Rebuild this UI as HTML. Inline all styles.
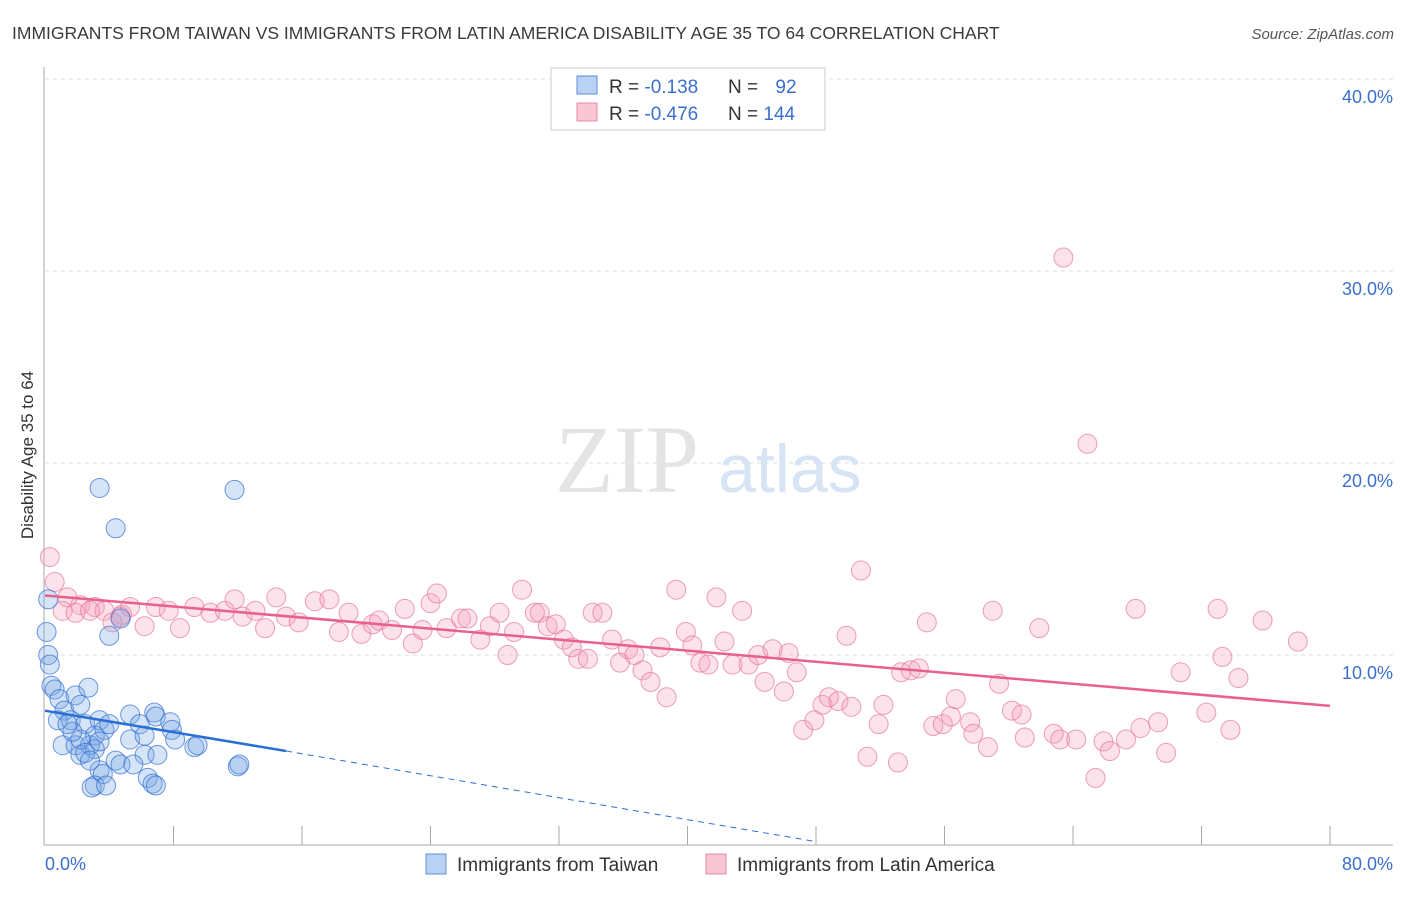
<!DOCTYPE html>
<html><head><meta charset="utf-8"><style>
body{margin:0;background:#fff;font-family:"Liberation Sans",sans-serif;}
</style></head><body>
<svg width="1406" height="892" xmlns="http://www.w3.org/2000/svg">
<text x="12" y="39" font-size="17.5" fill="#3a3a3a">IMMIGRANTS FROM TAIWAN VS IMMIGRANTS FROM LATIN AMERICA DISABILITY AGE 35 TO 64 CORRELATION CHART</text>
<text x="1394" y="39" font-size="15" fill="#555" font-style="italic" text-anchor="end">Source: ZipAtlas.com</text>
<g id="grid"></g>
<text x="555" y="492" font-size="96" fill="#e4e4e4" font-family="Liberation Serif,serif">ZIP</text>
<text x="718" y="492" font-size="68" fill="#d6e4f5">atlas</text>
<g id="axes"></g>
<g id="marks"></g>
<text transform="translate(33,455) rotate(-90)" font-size="17" fill="#333" text-anchor="middle">Disability Age 35 to 64</text>
<g>
<rect x="551" y="68" width="274" height="62" fill="#fff" stroke="#ccc"/>
<rect x="577" y="76" width="20" height="18" fill="#b9d2f3" stroke="#5b8fd9"/>
<rect x="577" y="103" width="20" height="18" fill="#f9c6d4" stroke="#e68aa6"/>
<text x="609" y="93" font-size="19" fill="#333">R = <tspan fill="#3a6fd0">-0.138</tspan></text>
<text x="728" y="93" font-size="19" fill="#333">N = <tspan fill="#3a6fd0" dx="12">92</tspan></text>
<text x="609" y="120" font-size="19" fill="#333">R = <tspan fill="#3a6fd0">-0.476</tspan></text>
<text x="728" y="120" font-size="19" fill="#333">N = <tspan fill="#3a6fd0">144</tspan></text>
</g>
<g>
<rect x="426" y="854" width="20" height="20" fill="#b9d2f3" stroke="#5b8fd9"/>
<text x="457" y="871" font-size="19" fill="#333">Immigrants from Taiwan</text>
<rect x="706" y="854" width="20" height="20" fill="#f9c6d4" stroke="#e68aa6"/>
<text x="737" y="871" font-size="19" fill="#333">Immigrants from Latin America</text>
</g>
</svg>
<script>
const yTicks=[10,20,30,40];
const xTickLabels=["0.0%","80.0%"];
const taiwanX=[3.4,11.8,4.4,4.7,4.0,0.1,0.2,0.2,0.3,0.4,0.6,0.9,1.2,1.9,2.7,2.2,1.6,2.5,3.1,3.4,1.1,1.9,2.8,2.2,3.1,3.7,5.3,5.9,6.8,6.9,7.8,7.9,8.1,9.3,9.5,5.3,6.2,7.0,4.4,4.7,5.5,3.4,3.6,3.1,2.9,3.8,6.4,6.7,6.9,12.0,12.1,2.2,2.5,2.8,1.7,0.8,1.4,3.4,4.0,6.2];
const taiwanY=[18.7,18.6,16.6,11.9,11.0,11.2,12.9,10.0,9.5,8.4,8.2,7.7,7.1,7.9,8.3,7.4,6.6,6.4,5.8,6.6,5.3,5.3,5.3,4.8,5.1,6.1,6.9,6.4,7.0,6.8,6.5,6.1,5.6,5.2,5.3,5.6,4.8,4.8,4.5,4.3,4.3,4.0,3.8,3.2,3.1,3.2,3.6,3.3,3.2,4.2,4.3,5.6,4.9,4.5,6.0,6.6,6.4,5.5,6.4,5.8];
const latamX=[0.3,0.6,1.4,2.2,3.1,3.7,4.8,5.3,6.2,6.9,7.7,8.4,9.3,10.3,11.2,11.8,12.3,13.1,13.7,14.4,15.0,15.8,16.8,17.7,18.3,18.9,19.7,20.4,20.8,21.6,22.4,22.9,23.5,24.0,24.4,25.0,25.9,26.3,27.1,27.7,28.3,28.8,29.2,29.7,30.5,30.8,31.3,31.8,32.3,32.8,33.2,33.8,34.1,34.7,35.3,35.8,36.3,36.7,37.2,37.7,38.3,38.7,39.3,39.9,40.3,40.8,41.3,41.8,42.3,42.8,43.4,43.8,44.4,44.8,45.3,46.0,46.3,46.8,47.2,47.9,48.4,48.8,49.4,49.9,50.2,50.8,51.2,51.9,52.2,53.1,53.3,53.9,54.4,54.9,55.3,55.9,56.4,56.7,57.6,57.8,58.7,59.0,59.4,60.2,60.8,61.0,61.9,62.8,63.2,64.2,63.4,64.9,65.4,65.9,66.3,67.3,67.9,68.2,69.3,69.8,70.7,72.3,73.0,73.3,73.8,74.3,75.8,78.0,1.1,1.9,2.8,4.2,4.7];
const latamY=[15.1,13.8,13.0,12.6,12.5,12.3,12.1,12.5,11.5,12.5,12.3,11.4,12.5,12.2,12.3,12.9,12.0,12.3,11.4,13.0,12.0,11.7,12.8,12.9,11.2,12.2,11.1,11.6,11.8,11.3,12.4,10.6,11.3,12.7,13.2,11.4,11.9,11.9,10.8,11.5,12.2,10.0,11.2,13.4,12.2,12.2,11.5,11.6,10.8,10.4,9.8,9.8,12.2,12.2,10.8,9.6,10.3,10.0,9.2,8.6,10.4,7.8,13.4,11.2,10.5,9.6,9.5,13.0,10.7,9.5,12.3,9.5,10.0,8.6,10.3,8.1,10.1,9.1,6.1,6.6,7.4,7.8,7.6,11.0,7.3,14.4,4.7,6.4,7.4,4.4,9.1,9.2,9.3,11.7,6.3,6.4,6.8,7.7,6.5,5.9,5.2,12.3,8.5,7.1,6.9,5.7,11.4,5.9,5.6,5.6,30.7,21.0,3.6,5.5,5.0,5.6,12.4,6.2,6.5,4.9,9.1,7.0,12.4,9.9,6.1,8.8,11.8,10.7,12.3,12.2,12.3,11.7,12.0];
const taiwanTrend=[[0,7.1],[15,5.0]];
const taiwanTrendDash=[[15,5.0],[48,0.28]];
const latamTrend=[[0,13.1],[80,7.35]];
const X0=45,X1=1330,Y0=847,PPY=19.2;
const sx=v=>X0+(v/80)*(X1-X0);
const sy=v=>Y0-v*PPY;
const NS="http://www.w3.org/2000/svg";
function mk(tag,attrs,parent){const e=document.createElementNS(NS,tag);for(const k in attrs)e.setAttribute(k,attrs[k]);document.getElementById(parent).appendChild(e);return e;}
yTicks.forEach(t=>{
 const g=mk('line',{x1:45,x2:1393,y1:sy(t),y2:sy(t),stroke:'#dcdcdc','stroke-dasharray':'4,4'},'grid');
 
 
 const l=mk('text',{x:1393,y:sy(t)+24,'font-size':18,fill:'#3a6fd0','text-anchor':'end'},'grid');
 l.textContent=t.toFixed(1)+'%';
 
 
});
const ax=mk('line',{x1:44,x2:44,y1:67,y2:845,stroke:'#aaa'},'axes');


const bx=mk('line',{x1:44,x2:1393,y1:845,y2:845,stroke:'#aaa'},'axes');


for(let i=1;i<=10;i++){
 const t=mk('line',{x1:sx(i*8),x2:sx(i*8),y1:826,y2:845,stroke:'#aaa'},'axes');
 
 
}
[[0,'start',xTickLabels[0]],[80,'end',xTickLabels[1]]].forEach(([v,a,s],i)=>{
 const t=mk('text',{x:i?1393:45,y:870,'font-size':18,fill:'#3a6fd0','text-anchor':a},'axes');
 t.textContent=s;
 
 
});
latamX.forEach((x,i)=>{
 const c=mk('circle',{cx:sx(x),cy:sy(latamY[i]),r:9.5,fill:'rgba(245,160,185,0.3)',stroke:'rgba(230,120,155,0.7)','stroke-width':1},'marks');
 
 
});
taiwanX.forEach((x,i)=>{
 const c=mk('circle',{cx:sx(x),cy:sy(taiwanY[i]),r:9.5,fill:'rgba(120,165,230,0.3)',stroke:'rgba(50,110,210,0.7)','stroke-width':1},'marks');
 
 
});
function ln(p,col,w,dash,name){
 const a={x1:sx(p[0][0]),y1:sy(p[0][1]),x2:sx(p[1][0]),y2:sy(p[1][1]),stroke:col,'stroke-width':w};
 if(dash)a['stroke-dasharray']=dash;
 const l=mk('line',a,'marks');
 
 
}
ln(latamTrend,'#e8608c',2.5,null,'latam-trend-line');
ln(taiwanTrend,'#2a6fd6',2.5,null,'taiwan-trend-line');
ln(taiwanTrendDash,'#2a6fd6',1,'6,5','taiwan-trend-extension');
</script>
</body></html>
